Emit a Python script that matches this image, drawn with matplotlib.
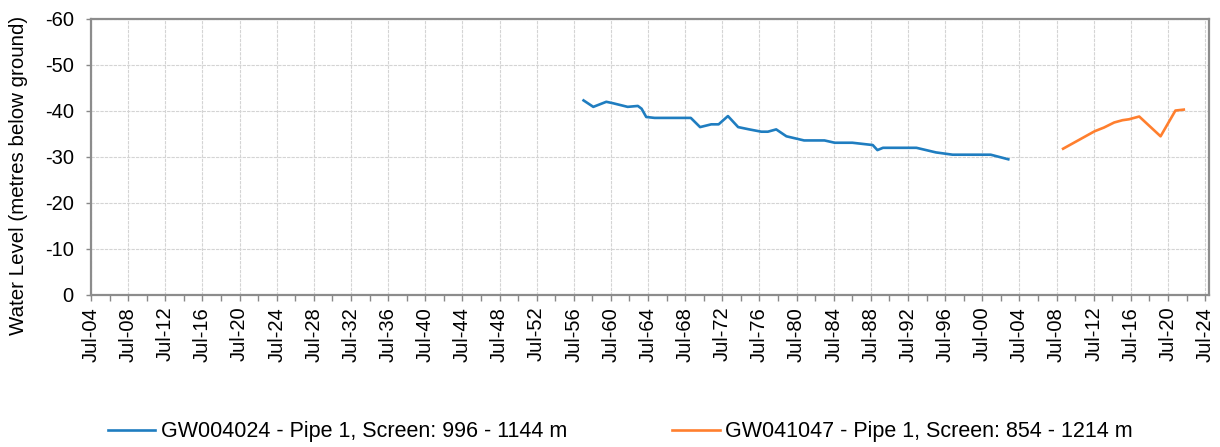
import matplotlib
matplotlib.use("Agg")
import matplotlib.pyplot as plt
import matplotlib.dates as mdates
import numpy as np
from datetime import datetime, timedelta

plt.rcParams['font.family'] = ['Liberation Sans', 'DejaVu Sans']

# Decimal years and water levels (metres below ground, negative)
gw1_years = [1957.55, 1958.6, 1960.0, 1960.7, 1962.3, 1963.4, 1963.8, 1964.3, 1965.2,
             1969.1, 1970.1, 1971.3, 1972.1, 1973.1, 1974.2, 1975.4, 1976.7, 1977.4,
             1978.3, 1979.4, 1981.3, 1983.5, 1984.6, 1986.5, 1988.7, 1989.2, 1989.8,
             1993.4, 1995.5, 1997.3, 2001.4, 2003.3]
gw1_levels = [-42.3, -40.9, -42.0, -41.7, -40.9, -41.1, -40.5, -38.7, -38.5,
              -38.5, -36.5, -37.1, -37.1, -38.9, -36.5, -36.0, -35.5, -35.5,
              -36.0, -34.5, -33.6, -33.6, -33.1, -33.1, -32.6, -31.5, -32.0,
              -32.0, -31.0, -30.5, -30.5, -29.5]

gw2_years = [2009.2, 2012.6, 2013.6, 2014.7, 2015.6, 2016.3, 2017.4, 2019.7, 2021.3, 2022.2]
gw2_levels = [-31.8, -35.6, -36.4, -37.5, -38.0, -38.2, -38.8, -34.5, -40.1, -40.3]

labels = ["GW004024 - Pipe 1, Screen: 996 - 1144 m",
          "GW041047 - Pipe 1, Screen: 854 - 1214 m"]
colors = ["#1f7dc0", "#ff7f2e"]
y_label = "Water Level (metres below ground)"


def to_date(y):
    yr = int(np.floor(y))
    start = datetime(yr, 1, 1)
    return start + timedelta(days=(y - yr) * 365.25)


fig = plt.figure(figsize=(12.2, 4.47), dpi=100)
ax = fig.add_axes([91 / 1220, 1 - 295 / 447, (1209 - 91) / 1220, (295 - 19) / 447])

l1, = ax.plot([to_date(y) for y in gw1_years], gw1_levels, color=colors[0], lw=1.9)
l2, = ax.plot([to_date(y) for y in gw2_years], gw2_levels, color=colors[1], lw=1.9)

ax.set_xlim(datetime(1904, 7, 1), datetime(2024, 12, 1))
ax.set_ylim(0, -60)
ax.set_yticks(np.arange(0, -61, -10))
ax.set_yticklabels([str(v) for v in range(0, -61, -10)])

ax.xaxis.set_major_locator(mdates.YearLocator(4, month=7, day=1))
ax.xaxis.set_minor_locator(mdates.YearLocator(2, month=7, day=1))
ax.xaxis.set_major_formatter(mdates.DateFormatter('%b-%y'))
ax.tick_params(axis='x', which='major', labelrotation=90, labelsize=14.5, length=4.5,
               color='#888888', width=1, pad=4)
ax.tick_params(axis='x', which='minor', length=4.5, color='#888888', width=1)
ax.tick_params(axis='y', labelsize=14.5, length=3.5, color='#888888', width=1, pad=9)

ax.grid(True, which='major', color='#d4d4d4', linestyle=(0, (3, 1)), linewidth=0.8)
ax.set_axisbelow(True)
for s in ax.spines.values():
    s.set_color('#8c8c8c')
    s.set_linewidth(1.6)

fig.text(19 / 1220, 1 - 175 / 447, y_label, rotation=90, ha='center', va='center',
         fontsize=14.8)

fig.legend([l1, l2], labels, loc='center', bbox_to_anchor=(0.5085, 0.034), ncol=2,
           frameon=False, fontsize=15.5, handlelength=2.2, columnspacing=4.9,
           handletextpad=0.25)

fig.savefig("out.png", dpi=100)
